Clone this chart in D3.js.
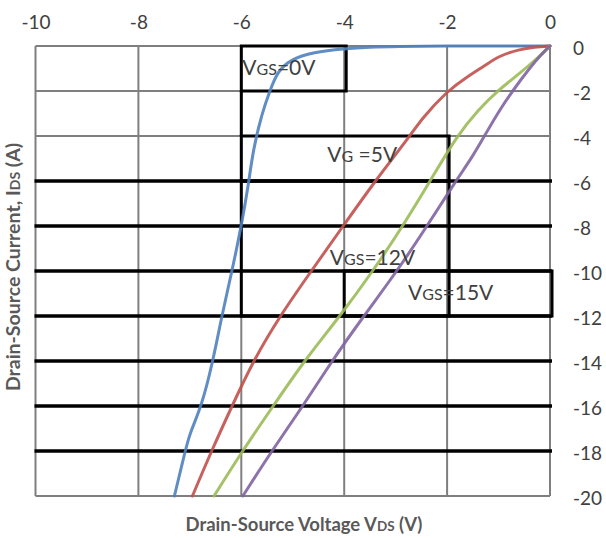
<!DOCTYPE html>
<html>
<head>
<meta charset="utf-8">
<script src="https://cdn.jsdelivr.net/npm/d3@7/dist/d3.min.js"></script>
<style>
  html, body { margin: 0; padding: 0; background: #fff; }
  svg { display: block; font-family: Lato, "Open Sans", sans-serif; }
</style>
</head>
<body>
<svg id="chart" width="606" height="538"></svg>
<script>
// Output characteristics (third quadrant): drain current vs drain-source voltage
const vdsTicks = [-10, -8, -6, -4, -2, 0];
const idsTicks = [0, -2, -4, -6, -8, -10, -12, -14, -16, -18, -20];
const heavyRows = [-6, -8, -10, -12, -14, -16, -18];

const seriesNames = ["VGS=0V", "VGS=5V", "VGS=12V", "VGS=15V"];

// [VDS (V), IDS (A)]
const vgs0 = [[0,0],[-1,0],[-2,0],[-3,-0.02],[-3.5,-0.05],[-4,-0.12],[-4.6,-0.27],[-5.05,-0.6],
  [-5.3,-1.15],[-5.44,-1.96],[-5.6,-3.0],[-5.77,-4.6],[-5.87,-6.3],[-6.0,-8],[-6.18,-10],
  [-6.38,-12],[-6.55,-14],[-6.77,-16],[-7.0,-17.2],[-7.09,-18],[-7.3,-20]];
const vgs5 = [[0,0],[-0.3,-0.04],[-0.6,-0.15],[-1.0,-0.45],[-1.25,-0.85],[-1.6,-1.35],[-2.0,-2.0],
  [-2.5,-3.25],[-2.72,-4],[-3.4,-6],[-4.02,-8],[-4.64,-10],[-5.25,-12],[-5.77,-14],[-6.18,-16],
  [-6.58,-18],[-6.95,-20]];
const vgs12 = [[0,0],[-0.25,-0.55],[-0.58,-1.2],[-1.0,-1.95],[-1.4,-2.85],[-1.81,-4],[-2.33,-6],
  [-2.86,-8],[-3.44,-10],[-4.08,-12],[-4.78,-14],[-5.38,-16],[-5.98,-18],[-6.53,-20]];
const vgs15 = [[0,0],[-0.2,-0.45],[-0.4,-1.0],[-0.65,-1.75],[-0.97,-2.8],[-1.25,-3.9],[-1.5,-4.9],
  [-1.83,-6],[-2.39,-8],[-2.97,-10],[-3.62,-12],[-4.24,-14],[-4.8,-16],[-5.41,-18],[-5.97,-20]];

const seriesData = [vgs0, vgs5, vgs12, vgs15];
const seriesColors = ["#4f81bd", "#c0504d", "#9bbb59", "#8064a2"];

// Framed text boxes placed on the plot (in data units)
const frames = [
  { x0: -6, x1: -4, y0: 0,  y1: -2 },
  { x0: -6, x1: -2, y0: -4, y1: -6 },
  { x0: -6, x1: -2, y0: -6, y1: -12 },
  { x0: -4, x1: 0,  y0: -10, y1: -12 }
];
const extraRules = [ { x0: -6, x1: -6, y0: -2, y1: -4 } ];

// Box captions: main text, subscript part, trailing text, anchor in data units
const captions = [
  { main: "V", sub: "GS", rest: "=0V",  x: -5.98, y: -1.29 },
  { main: "V", sub: "G",  rest: "\u00a0=5V", x: -4.33, y: -5.16 },
  { main: "V", sub: "GS", rest: "=12V", x: -4.28, y: -9.73 },
  { main: "V", sub: "GS", rest: "=15V", x: -2.76, y: -11.29 }
];

const svg = d3.select("#chart");
const plotL = 35.5, plotR = 550, plotT = 46, plotB = 496;

const x = d3.scaleLinear().domain([-10, 0]).range([plotL, plotR]);
const y = d3.scaleLinear().domain([0, -20]).range([plotT, plotB]);

// Light grid
const grid = svg.append("g");
grid.append("g").selectAll("line").data(vdsTicks).join("line")
  .attr("x1", d => x(d)).attr("x2", d => x(d))
  .attr("y1", plotT).attr("y2", plotB)
  .attr("stroke", "#7f7f7f").attr("stroke-width", 2);
grid.append("g").selectAll("line").data(idsTicks).join("line")
  .attr("x1", plotL).attr("x2", plotR)
  .attr("y1", d => y(d)).attr("y2", d => y(d))
  .attr("stroke", "#7f7f7f").attr("stroke-width", 2);

// Heavy rules
svg.append("g").selectAll("line").data(heavyRows).join("line")
  .attr("x1", plotL - 1).attr("x2", plotR + 2)
  .attr("y1", d => y(d)).attr("y2", d => y(d))
  .attr("stroke", "#000").attr("stroke-width", 3.5);

// Frames
svg.append("g").selectAll("rect").data(frames).join("rect")
  .attr("x", d => x(d.x0)).attr("y", d => y(d.y0))
  .attr("width", d => x(d.x1) - x(d.x0) + 2)
  .attr("height", d => y(d.y1) - y(d.y0))
  .attr("fill", "none").attr("stroke", "#000").attr("stroke-width", 3);
svg.append("g").selectAll("line").data(extraRules).join("line")
  .attr("x1", d => x(d.x0)).attr("x2", d => x(d.x1))
  .attr("y1", d => y(d.y0)).attr("y2", d => y(d.y1))
  .attr("stroke", "#000").attr("stroke-width", 3);

// Curves
const line = d3.line().x(d => x(d[0])).y(d => y(d[1])).curve(d3.curveBasis);
svg.append("g").selectAll("path").data(seriesData).join("path")
  .attr("d", line)
  .attr("fill", "none")
  .attr("stroke", (d, i) => seriesColors[i])
  .attr("stroke-width", 3)
  .attr("stroke-linecap", "round")
  .attr("stroke-opacity", 0.9);

// Captions
const cap = svg.append("g").selectAll("text").data(captions).join("text")
  .attr("x", d => x(d.x)).attr("y", d => y(d.y))
  .attr("fill", "#404040").attr("font-size", 21);
cap.append("tspan").text(d => d.main);
cap.append("tspan").attr("font-size", 16).text(d => d.sub);
cap.append("tspan").text(d => d.rest);

const plainNum = d => String(d);

// Top axis labels
const xAxis = d3.axisTop(x).tickValues(vdsTicks).tickSize(0).tickPadding(0).tickFormat(plainNum);
const gx = svg.append("g").attr("transform", "translate(0,29)").call(xAxis);
gx.select(".domain").remove();
gx.selectAll("text").attr("font-size", 19).attr("fill", "#404040")
  .attr("font-family", "Lato, sans-serif").attr("dy", 0);

// Right axis labels
const yAxis = d3.axisRight(y).tickValues(idsTicks).tickSize(0).tickPadding(0).tickFormat(plainNum);
const gy = svg.append("g").attr("transform", "translate(573,2)").call(yAxis);
gy.select(".domain").remove();
gy.selectAll("text").attr("font-size", 19).attr("fill", "#404040")
  .attr("font-family", "Lato, sans-serif");

// Axis titles
const xt = svg.append("text")
  .attr("x", 304).attr("y", 531).attr("text-anchor", "middle")
  .attr("font-size", 18.5).attr("font-weight", "bold").attr("fill", "#595959");
xt.append("tspan").text("Drain-Source Voltage V");
xt.append("tspan").attr("font-size", 13.5).text("DS");
xt.append("tspan").text(" (V)");

const yt = svg.append("text")
  .attr("transform", "translate(20,267) rotate(-90)").attr("text-anchor", "middle")
  .attr("font-size", 19.5).attr("font-weight", "bold").attr("fill", "#595959");
yt.append("tspan").text("Drain-Source Current, I");
yt.append("tspan").attr("font-size", 14).text("DS");
yt.append("tspan").text(" (A)");
</script>
</body>
</html>
